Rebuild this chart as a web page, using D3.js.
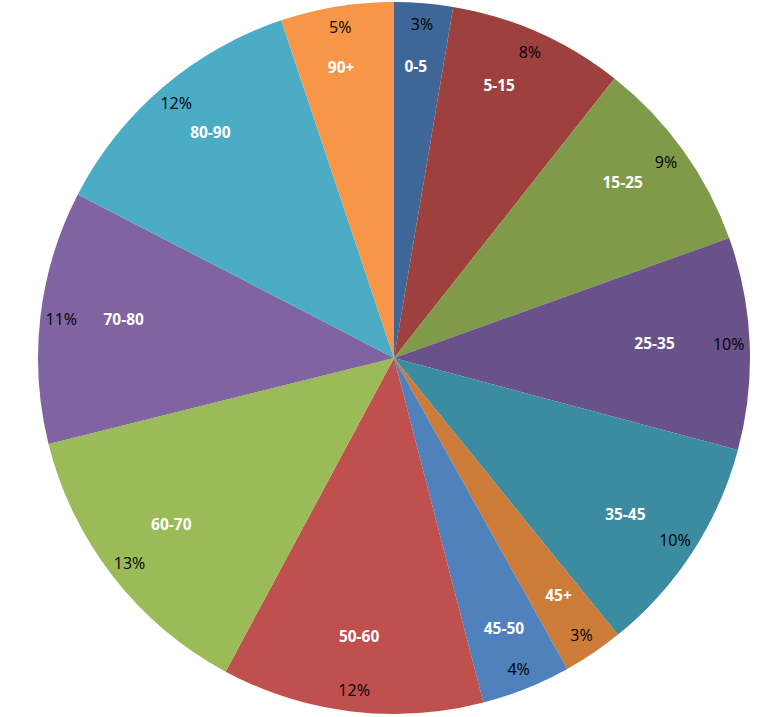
<!DOCTYPE html>
<html>
<head>
<meta charset="utf-8">
<script src="https://cdn.jsdelivr.net/npm/d3@7"></script>
<style>
  html, body { margin: 0; padding: 0; background: #ffffff; }
  svg { display: block; }
  .name { font-family: "Open Sans", sans-serif; font-weight: 700; font-size: 15.5px; fill: #ffffff; }
  .pct  { font-family: "Open Sans", sans-serif; font-weight: 400; font-size: 16px; fill: #000000; }
</style>
</head>
<body>
<svg id="chart" width="784" height="717"></svg>
<script>
// Age groups, clockwise from 12 o'clock
const categories = ["0-5", "5-15", "15-25", "25-35", "35-45", "45+", "45-50", "50-60", "60-70", "70-80", "80-90", "90+"];
// Share of the total for each group (percent)
const shares = [2.66, 7.97, 8.90, 9.63, 10.02, 2.73, 4.05, 11.88, 13.28, 11.48, 12.27, 5.13];
// Slice fills
const colors = ["#3E6797", "#9E413E", "#7F9A48", "#69528A", "#3B8BA1", "#CD7B38",
                "#4F81BD", "#C0504D", "#9BBB59", "#8064A2", "#4BACC6", "#F79646"];
// Placement of the group names: fraction of the radius, and a small turn (degrees) off the slice middle
const nameRadius = [0.820, 0.820, 0.810, 0.733, 0.784, 0.811, 0.820, 0.789, 0.781, 0.767, 0.817, 0.829];
const nameTurn = [-0.5, -2.8, -1.8, -0.8, 1.0, -0.7, -0.3, 0.3, 1.1, 1.4, 1.4, -1.1];
const pctRadius = 0.941;

const cx = 394, cy = 358, R = 356;
const svg = d3.select("#chart");
const g = svg.append("g").attr("transform", `translate(${cx},${cy})`);

const total = d3.sum(shares);
const pie = d3.pie().sort(null).value(d => d);
const arcs = pie(shares);
const arc = d3.arc().innerRadius(0).outerRadius(R);

g.selectAll("path.slice")
  .data(arcs)
  .join("path")
  .attr("class", "slice")
  .attr("d", arc)
  .attr("fill", (d, i) => colors[i]);

const mid = d => (d.startAngle + d.endAngle) / 2;
const polar = (a, r) => [r * Math.sin(a), -r * Math.cos(a)];
const namePos = (d, i) => polar(mid(d) + nameTurn[i] * Math.PI / 180, nameRadius[i] * R);

g.selectAll("text.name")
  .data(arcs)
  .join("text")
  .attr("class", "name")
  .attr("text-anchor", "middle")
  .attr("dy", "0.36em")
  .attr("x", (d, i) => namePos(d, i)[0])
  .attr("y", (d, i) => namePos(d, i)[1])
  .text((d, i) => categories[i]);

g.selectAll("text.pct")
  .data(arcs)
  .join("text")
  .attr("class", "pct")
  .attr("text-anchor", "middle")
  .attr("dy", "0.36em")
  .attr("x", d => polar(mid(d), pctRadius * R)[0])
  .attr("y", d => polar(mid(d), pctRadius * R)[1])
  .text(d => Math.round(d.value / total * 100) + "%");
</script>
</body>
</html>
